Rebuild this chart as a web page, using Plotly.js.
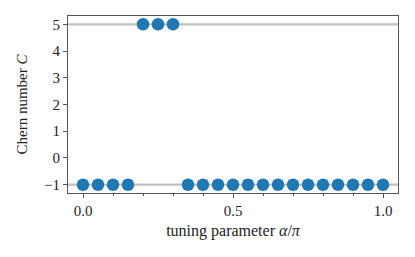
<!DOCTYPE html>
<html>
<head>
<meta charset="utf-8">
<script src="https://cdn.plot.ly/plotly-3.0.1.min.js"></script>
<style>html,body{margin:0;padding:0;background:#fff;}#chart{width:415px;height:257px;}</style>
</head>
<body>
<div id="chart"></div>
<script>
const alphaOverPi = [0, 0.05, 0.1, 0.15, 0.2, 0.25, 0.3, 0.35, 0.4, 0.45, 0.5, 0.55, 0.6, 0.65, 0.7, 0.75, 0.8, 0.85, 0.9, 0.95, 1.0];
const chernNumber = [-1, -1, -1, -1, 5, 5, 5, -1, -1, -1, -1, -1, -1, -1, -1, -1, -1, -1, -1, -1, -1];
const refLevels = [5, -1];
const xTickVals = [0, 0.5, 1.0];
const xTickText = ['0.0', '0.5', '1.0'];
const yTickVals = [-1, 0, 1, 2, 3, 4, 5];
const yTickText = ['\u22121', '0', '1', '2', '3', '4', '5'];

const font = {family: 'Liberation Serif, serif', size: 15, color: '#222'};
const xTitleFont = {family: 'Liberation Serif, serif', size: 16, color: '#222'};

const shapes = refLevels.map(v => ({
  type: 'line', xref: 'paper', x0: 0, x1: 1, yref: 'y', y0: v, y1: v,
  line: {color: '#c0c0c0', width: 2.2}, layer: 'below'
}));

const trace = {
  x: alphaOverPi, y: chernNumber, type: 'scatter', mode: 'markers',
  marker: {color: '#1f77b4', size: 12.5, line: {width: 0}},
  cliponaxis: false, hoverinfo: 'none'
};

const layout = {
  width: 415, height: 257,
  margin: {l: 68, r: 17, t: 16, b: 64},
  paper_bgcolor: '#fff', plot_bgcolor: '#fff',
  font: font,
  showlegend: false,
  shapes: shapes,
  xaxis: {
    range: [-0.05, 1.05], tickvals: xTickVals, ticktext: xTickText,
    ticks: 'outside', ticklen: 4, tickcolor: '#555', tickwidth: 1,
    minor: {dtick: 0.1, tick0: 0, ticks: 'outside', ticklen: 2, tickcolor: '#555', showgrid: false},
    showline: true, mirror: true, linecolor: '#555', linewidth: 1,
    showgrid: false, zeroline: false,
    title: {text: 'tuning parameter <i>α</i>/<i>π</i>', font: xTitleFont, standoff: 6},
    tickfont: font
  },
  yaxis: {
    range: [-1.31, 5.31], tickvals: yTickVals, ticktext: yTickText,
    ticks: 'outside', ticklen: 4, tickcolor: '#555', tickwidth: 1,
    showline: true, mirror: true, linecolor: '#555', linewidth: 1,
    showgrid: false, zeroline: false,
    title: {text: 'Chern number <i>C</i>', font: font, standoff: 12},
    tickfont: font
  }
};

Plotly.newPlot('chart', [trace], layout, {displayModeBar: false, staticPlot: true});
</script>
</body>
</html>
